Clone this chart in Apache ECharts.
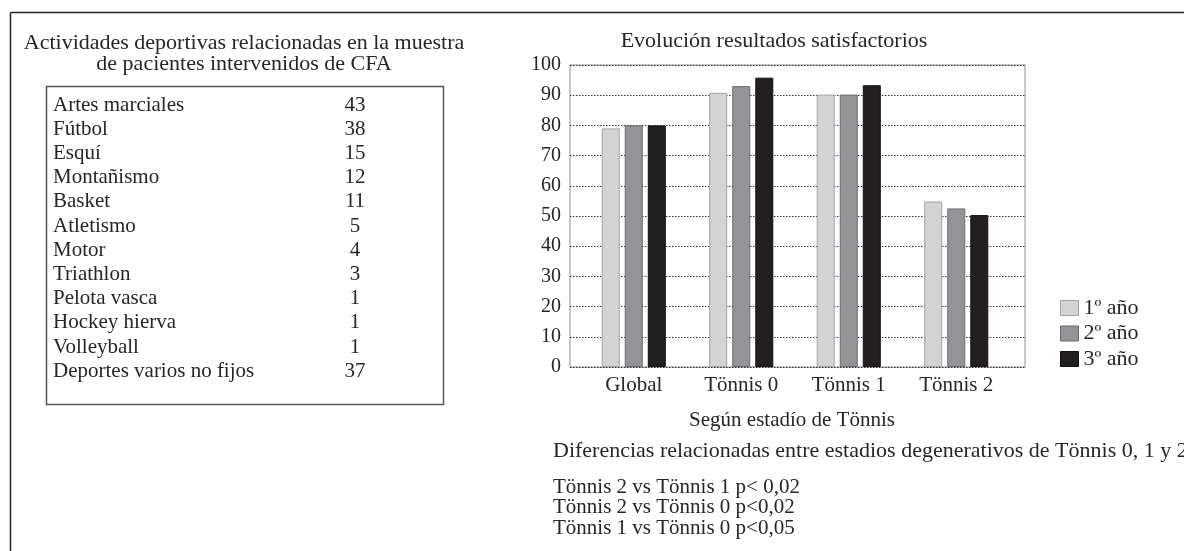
<!DOCTYPE html>
<html>
<head>
<meta charset="utf-8">
<script src="https://cdn.jsdelivr.net/npm/echarts@6/dist/echarts.min.js"></script>
<style>
html,body{margin:0;padding:0;background:#fff;}
#chart{width:1184px;height:551px;}
</style>
</head>
<body>
<div id="chart"></div>
<script>
// ---- data ----
const categories = ['Global', 'Tönnis 0', 'Tönnis 1', 'Tönnis 2'];
const seriesNames = ['1º año', '2º año', '3º año'];
const year1 = [79, 90.8, 90.2, 54.8];
const year2 = [80, 93, 90.2, 52.5];
const year3 = [80, 95.8, 93.3, 50.3];
const yTicks = [0, 10, 20, 30, 40, 50, 60, 70, 80, 90, 100];
const sports = ['Artes marciales', 'Fútbol', 'Esquí', 'Montañismo', 'Basket', 'Atletismo', 'Motor', 'Triathlon', 'Pelota vasca', 'Hockey hierva', 'Volleyball', 'Deportes varios no fijos'];
const sportCounts = [43, 38, 15, 12, 11, 5, 4, 3, 1, 1, 1, 37];
const chartTitle = 'Evolución resultados satisfactorios';
const tableTitle = ['Actividades deportivas relacionadas en la muestra', 'de pacientes intervenidos de CFA'];
const xAxisName = 'Según estadío de Tönnis';
const noteTitle = 'Diferencias relacionadas entre estadios degenerativos de Tönnis 0, 1 y 2';
const notes = ['Tönnis 2 vs Tönnis 1 p< 0,02', 'Tönnis 2 vs Tönnis 0 p<0,02', 'Tönnis 1 vs Tönnis 0 p<0,05'];

const FONT = '"Liberation Serif", "DejaVu Serif", serif';
const TXT = '#262626';
const FS = 21;
const FST = 22;
const colors = ['#d3d3d5', '#939497', '#231f20'];
const borders = ['#a3a3a5', '#6a6a6d', '#111111'];

const chart = echarts.init(document.getElementById('chart'), null, {renderer: 'canvas'});

const graphics = [];
// outer frame (top and left lines)
graphics.push({type: 'line', shape: {x1: 10.5, y1: 12.5, x2: 1184, y2: 12.5}, style: {stroke: '#222', lineWidth: 1.5}});
graphics.push({type: 'line', shape: {x1: 10.5, y1: 12.5, x2: 10.5, y2: 551}, style: {stroke: '#222', lineWidth: 1.5}});
// table title
tableTitle.forEach((t, i) => {
  graphics.push({type: 'text', x: 244, y: 43 + i * 21.5, style: {text: t, font: FST + 'px ' + FONT, fill: TXT, textAlign: 'center', textVerticalAlign: 'middle'}});
});
// table box
graphics.push({type: 'rect', shape: {x: 46.5, y: 86.5, width: 397, height: 318}, style: {fill: 'none', stroke: '#555', lineWidth: 1.5}});
sports.forEach((s, i) => {
  const y = 105 + i * 24.2;
  graphics.push({type: 'text', x: 53, y: y, style: {text: s, font: FS + 'px ' + FONT, fill: TXT, textAlign: 'left', textVerticalAlign: 'middle'}});
  graphics.push({type: 'text', x: 355, y: y, style: {text: String(sportCounts[i]), font: FS + 'px ' + FONT, fill: TXT, textAlign: 'center', textVerticalAlign: 'middle'}});
});
// chart title
graphics.push({type: 'text', x: 774, y: 41, style: {text: chartTitle, font: FST + 'px ' + FONT, fill: TXT, textAlign: 'center', textVerticalAlign: 'middle'}});
// notes
graphics.push({type: 'text', x: 553, y: 451, style: {text: noteTitle, font: FST + 'px ' + FONT, fill: TXT, textAlign: 'left', textVerticalAlign: 'middle'}});
notes.forEach((n, i) => {
  graphics.push({type: 'text', x: 553, y: 487 + i * 20.5, style: {text: n, font: FS + 'px ' + FONT, fill: TXT, textAlign: 'left', textVerticalAlign: 'middle'}});
});

const dataSets = [year1, year2, year3];

const option = {
  backgroundColor: '#fff',
  animation: false,
  textStyle: {fontFamily: FONT},
  grid: [
    {left: 570, top: 65, width: 455, height: 302, show: true, borderColor: '#b5b5b5', borderWidth: 1.5, backgroundColor: 'transparent'},
    {left: 580, top: 65, width: 430, height: 302}
  ],
  legend: {
    orient: 'vertical',
    left: 1055, top: 292,
    icon: 'rect',
    itemWidth: 18, itemHeight: 15, itemGap: 3.5,
    data: seriesNames,
    textStyle: {fontFamily: FONT, fontSize: FST, lineHeight: 20, color: TXT, padding: [0, 0, 0, 0]},
    itemStyle: {borderWidth: 1}
  },
  xAxis: [
    {type: 'value', gridIndex: 0, min: 0, max: 1, show: false},
    {type: 'category', gridIndex: 1, data: categories,
      axisLine: {show: false}, axisTick: {show: false},
      axisLabel: {fontFamily: FONT, fontSize: FS, color: TXT, margin: 8},
      name: xAxisName, nameLocation: 'middle', nameGap: 43,
      nameTextStyle: {fontFamily: FONT, fontSize: FS, color: TXT, padding: [0, 6, 0, 0]}}
  ],
  yAxis: [
    {type: 'value', gridIndex: 0, min: 0, max: 100, interval: 10,
      axisLine: {show: false}, axisTick: {show: false},
      axisLabel: {fontFamily: FONT, fontSize: 20, color: TXT, margin: 9,
        formatter: v => yTicks.includes(v) ? String(v) : ''},
      splitLine: {show: true, lineStyle: {color: '#333', type: [1.5, 1.5], width: 1}}},
    {type: 'value', gridIndex: 1, min: 0, max: 100, interval: 10, show: false, splitLine: {show: false}}
  ],
  series: seriesNames.map((name, i) => ({
    name: name, type: 'bar', xAxisIndex: 1, yAxisIndex: 1,
    data: dataSets[i],
    barWidth: 18, barGap: '28%',
    itemStyle: {color: colors[i], borderColor: borders[i], borderWidth: 1}
  })),
  graphic: graphics
};
chart.setOption(option);
</script>
</body>
</html>
